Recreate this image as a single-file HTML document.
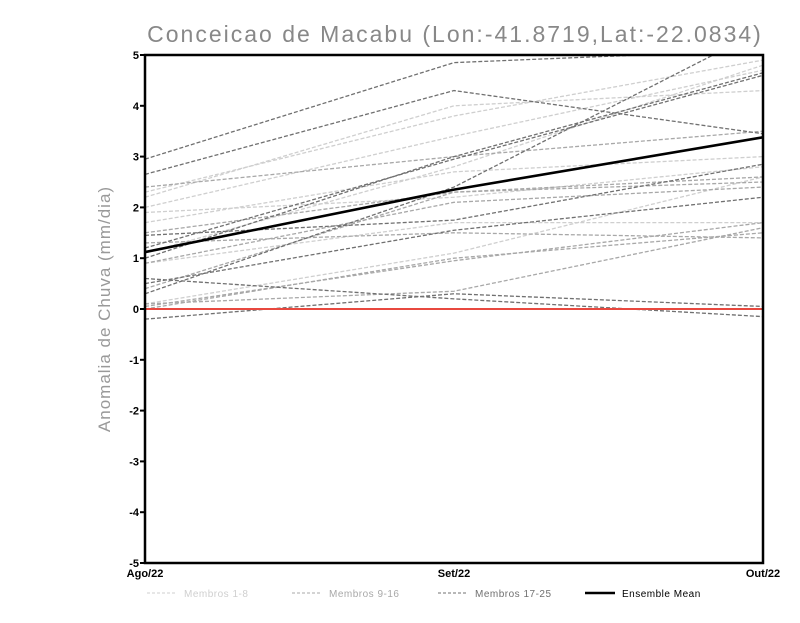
<!DOCTYPE html>
<html><head><meta charset="utf-8"><style>
body{margin:0;background:#fff;width:800px;height:618px;overflow:hidden;font-family:"Liberation Sans",sans-serif}
</style></head><body>
<svg id="c" width="800" height="618">
<text x="455" y="42" text-anchor="middle" font-size="23" fill="#888" letter-spacing="2">Conceicao de Macabu (Lon:-41.8719,Lat:-22.0834)</text>
<text transform="translate(110,309) rotate(-90)" text-anchor="middle" font-size="17" fill="#999" letter-spacing="1">Anomalia de Chuva (mm/dia)</text>
<defs><clipPath id="cp"><rect x="145" y="55" width="618" height="508"/></clipPath></defs>
<g id="marks" clip-path="url(#cp)"></g>
<g id="axes"></g>
<g id="legend"></g>
</svg>
<script>
const categories=["Ago/22","Set/22","Out/22"];
const yTicks=[-5,-4,-3,-2,-1,0,1,2,3,4,5];
const group1=[[2.3,3.8,4.9],[2.0,3.4,4.7],[1.9,2.2,2.8],[1.7,2.7,3.0],[0.9,1.7,1.7],[0.1,1.1,2.6],[2.2,4.0,4.3],[1.1,2.8,4.8]];
const group2=[[1.5,2.3,2.5],[0.0,1.0,1.5],[1.3,1.5,1.4],[0.9,2.1,2.4],[0.05,0.95,1.7],[2.4,3.0,3.5],[0.4,2.3,2.6],[0.1,0.35,1.6]];
const group3=[[2.95,4.85,5.1],[2.65,4.3,3.45],[-0.2,0.3,0.05],[0.6,0.2,-0.15],[1.45,1.75,2.85],[1.2,2.95,4.6],[0.3,2.4,5.5],[1.0,3.0,4.65],[0.5,1.55,2.2]];
const ensembleMean=[1.12,2.35,3.38];
const legendLabels=["Membros 1-8","Membros 9-16","Membros 17-25","Ensemble Mean"];
const NS="http://www.w3.org/2000/svg";
const X0=145,X1=763,Y0=563,Y1=55;
const xs=i=>X0+(X1-X0)*i/(categories.length-1);
const ys=v=>Y0-(v+5)/10*(Y0-Y1);
function mk(t,a,p){const e=document.createElementNS(NS,t);for(const k in a)e.setAttribute(k,a[k]);p.appendChild(e);return e;}
const marks=document.getElementById('marks'),axes=document.getElementById('axes'),leg=document.getElementById('legend');
function line(vals,color,dash,w,name){const e=mk('polyline',{points:vals.map((v,i)=>xs(i)+','+ys(v)).join(' '),fill:'none',stroke:color,'stroke-width':w,'stroke-dasharray':dash},marks);

}
group1.forEach((s,i)=>line(s,'#cfcfcf','4,2',1.3,'member-line-'+(i+1)));
group2.forEach((s,i)=>line(s,'#a8a8a8','4,2',1.3,'member-line-'+(i+9)));
group3.forEach((s,i)=>line(s,'#707070','4,2',1.3,'member-line-'+(i+17)));
const z=mk('line',{x1:X0,x2:X1,y1:ys(0),y2:ys(0),stroke:'#e8483f','stroke-width':2},marks);


line(ensembleMean,'#000','none',2.6,'ensemble-mean-line');
const fr=mk('rect',{x:X0,y:Y1,width:X1-X0,height:Y0-Y1,fill:'none',stroke:'#000','stroke-width':2.5},axes);


yTicks.forEach(v=>{mk('line',{x1:X0-5,x2:X0,y1:ys(v),y2:ys(v),stroke:'#000','stroke-width':2},axes);
const t=mk('text',{x:X0-6,y:ys(v)+4,'text-anchor':'end','font-size':11,'font-weight':'bold'},axes);t.textContent=v;

});
categories.forEach((c,i)=>{const t=mk('text',{x:xs(i),y:577,'text-anchor':'middle','font-size':11,'font-weight':'bold'},axes);t.textContent=c;

});
const lc=['#cfcfcf','#a8a8a8','#707070','#000'],lx=[147,292,438,585];
legendLabels.forEach((l,i)=>{const g=mk('g',{},leg);


mk('line',{x1:lx[i],x2:lx[i]+30,y1:593,y2:593,stroke:lc[i],'stroke-width':i==3?2.5:1,'stroke-dasharray':i==3?'none':'3,2'},g);
const t=mk('text',{x:lx[i]+37,y:597,'font-size':10,fill:i==3?'#000':lc[i],'letter-spacing':0.5},g);t.textContent=l;});
</script>
</body></html>
